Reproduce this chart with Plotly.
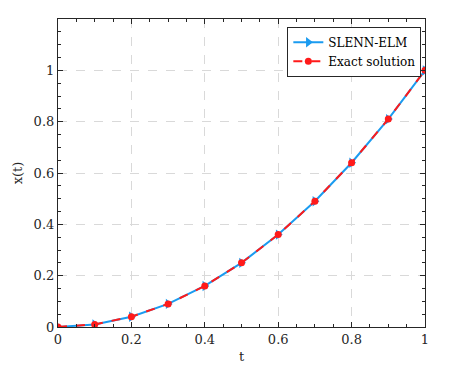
import plotly.graph_objects as go

t = [0, 0.1, 0.2, 0.3, 0.4, 0.5, 0.6, 0.7, 0.8, 0.9, 1.0]
x_elm = [0, 0.01, 0.04, 0.09, 0.16, 0.25, 0.36, 0.49, 0.64, 0.81, 1.0]
x_exact = [0, 0.01, 0.04, 0.09, 0.16, 0.25, 0.36, 0.49, 0.64, 0.81, 1.0]

font_family = "DejaVu Serif"

fig = go.Figure()

# SLENN-ELM solution
fig.add_trace(go.Scatter(
    x=t, y=x_elm,
    mode='lines+markers',
    name='SLENN-ELM',
    line=dict(color='#1a9bf0', width=2),
    marker=dict(symbol='triangle-right', size=9, color='#1a9bf0')
))

# Exact solution
fig.add_trace(go.Scatter(
    x=t, y=x_exact,
    mode='lines+markers',
    name='Exact solution',
    line=dict(color='#ff1a1a', width=2, dash='dash'),
    marker=dict(symbol='circle', size=7, color='#ff1a1a')
))

axis_style = dict(
    showline=True, linecolor='#262626', linewidth=1.2, mirror='allticks',
    ticks='inside', ticklen=5, tickcolor='#262626', tickwidth=1,
    showgrid=True, gridcolor='#d9d9d9', griddash='dash', gridwidth=1,
    zeroline=False, automargin=False,
    minor=dict(ticks='inside', ticklen=3, dtick=0.05, tickcolor='#262626', showgrid=False),
    tickfont=dict(family=font_family, size=13, color='#262626'),
)

fig.update_layout(
    width=451, height=369,
    margin=dict(l=58, r=26, t=19, b=42),
    plot_bgcolor='white', paper_bgcolor='white',
    font=dict(family=font_family, size=13, color='#262626'),
    showlegend=True,
    legend=dict(
        x=0.99, y=0.975, xanchor='right', yanchor='top',
        bordercolor='#262626', borderwidth=1, bgcolor='white',
        font=dict(family=font_family, size=12, color='#000000'),
        tracegroupgap=0, itemwidth=30
    ),
    xaxis=dict(range=[0, 1], dtick=0.2, tick0=0,
               title=dict(text='t', standoff=6, font=dict(family=font_family, size=13)),
               **axis_style),
    yaxis=dict(range=[0, 1.2], dtick=0.2, tick0=0,
               tickvals=[0, 0.2, 0.4, 0.6, 0.8, 1.0],
               title=dict(text='x(t)', standoff=8, font=dict(family=font_family, size=13)),
               **axis_style),
)

# remove the default page margin so the figure sits at the window origin
fig.write_html("out.html", config={'displayModeBar': False},
               post_script="document.body.style.margin='0';")
